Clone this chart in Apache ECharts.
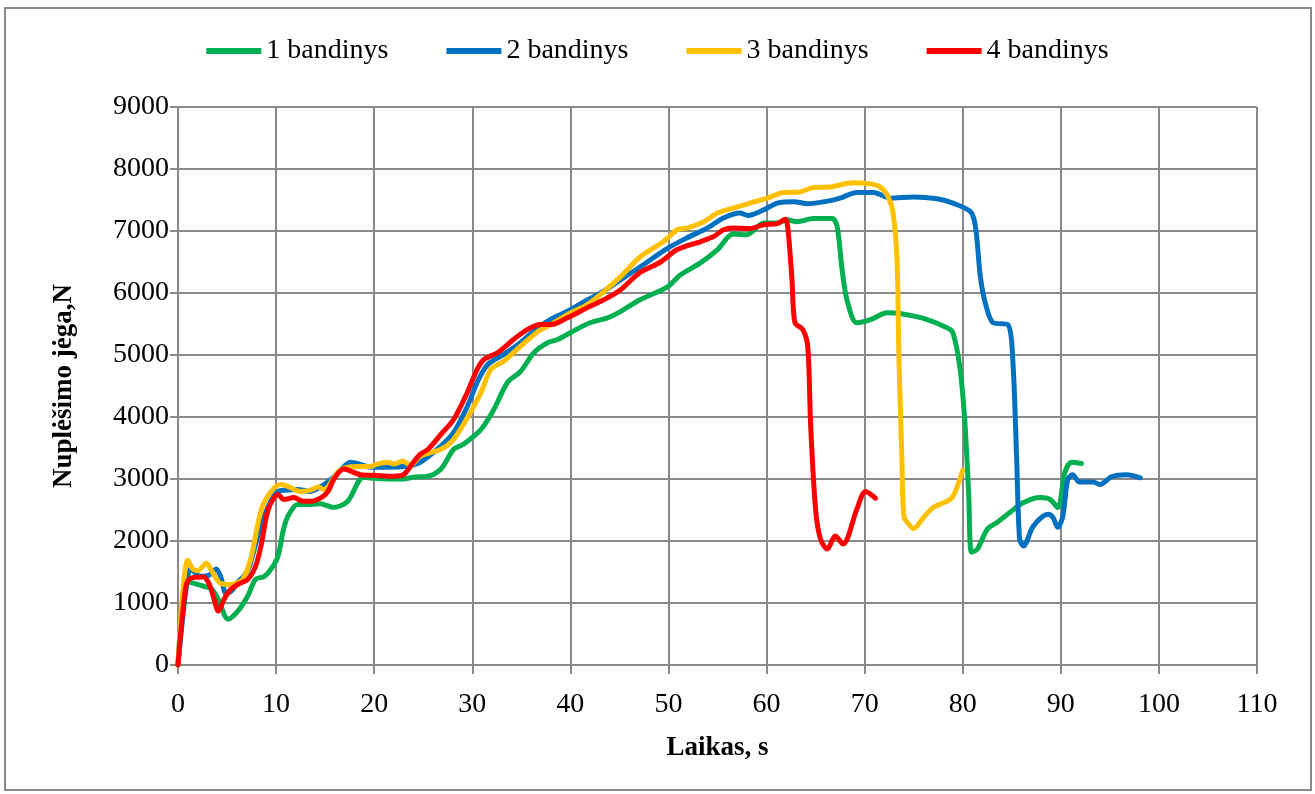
<!DOCTYPE html>
<html>
<head>
<meta charset="utf-8">
<script src="https://cdn.jsdelivr.net/npm/echarts@6/dist/echarts.min.js"></script>
<style>
html,body{margin:0;padding:0;background:#fff;}
#chart{width:1315px;height:794px;}
</style>
</head>
<body>
<div id="chart"></div>
<script>
const seriesNames = ['1 bandinys', '2 bandinys', '3 bandinys', '4 bandinys'];
const xTicks = [0,10,20,30,40,50,60,70,80,90,100,110];
const yTicks = [0,1000,2000,3000,4000,5000,6000,7000,8000,9000];

const s1Time = [0,1.1,2.6,3.4,4.1,5.1,6.1,7.1,7.9,8.8,9.5,10.2,10.7,11.2,12.2,13.5,14.5,15.9,17.3,18.9,20,21.5,23,24,25.5,26.8,28.1,29.1,30.9,32.2,33.6,34.9,36.3,37.7,38.7,40,42,43.8,45.1,47.1,49.9,51.2,53.3,55,56.6,58,59.7,61.1,62.1,63.1,64.8,66.7,67.2,67.7,68.2,69.2,70.6,72.3,73.6,76,78.4,79,79.7,80.2,80.6,80.9,81.5,82.5,83.5,84.8,86.2,87.9,88.9,89.7,90.4,91.1,92.1];
const s1Force = [0,1340,1270,1230,1060,740,870,1110,1380,1430,1550,1760,2150,2400,2590,2590,2600,2540,2640,3030,3010,3000,3000,3030,3045,3160,3480,3560,3800,4120,4560,4730,5040,5200,5250,5360,5520,5600,5700,5890,6100,6290,6490,6700,6950,6940,7130,7130,7180,7150,7200,7200,7070,6380,5890,5520,5570,5680,5670,5590,5440,5360,4810,3960,2790,1820,1870,2190,2300,2460,2620,2700,2670,2540,3100,3270,3250];

const s2Time = [0,0.8,1.3,2.3,3.2,3.9,4.4,4.9,5.5,6.1,6.7,7.3,8,8.8,9.5,10.2,11,12.2,13.5,14.6,15.5,16.3,17.6,18.5,19.6,21.4,23,24.7,26.8,28.1,29.5,30.5,31.6,33.2,34.9,36.7,38.3,40,41.4,43.1,45.1,47.1,49.9,51.9,54,55.6,57.3,58.1,59.7,61.1,62.8,64.2,66.5,67.5,69.2,70.9,72.6,75,77.4,79,80.8,81.3,81.8,82.3,83.1,84.6,85.1,85.5,85.8,86.2,87.2,88.7,89.2,89.7,90.2,90.7,91.2,91.9,93.3,94,95.2,96.7,98.1];
const s2Force = [0,1200,1550,1430,1450,1550,1400,1150,1200,1340,1430,1600,2000,2400,2650,2800,2820,2830,2800,2880,2980,3100,3270,3240,3190,3190,3200,3270,3530,3750,4170,4560,4850,5010,5200,5440,5600,5730,5860,6000,6210,6420,6720,6890,7050,7210,7290,7250,7340,7450,7470,7440,7490,7530,7620,7620,7530,7550,7520,7450,7310,7070,6260,5840,5520,5490,4930,3320,2030,1920,2240,2430,2380,2220,2400,2990,3070,2950,2950,2910,3040,3070,3020];

const s3Time = [0,0.5,1,1.5,2,2.9,3.5,4.4,5.4,6.1,6.6,7.4,8.5,9.5,10.5,11.2,12.5,13.5,14.3,14.9,16.3,17.3,18.5,19.6,20.3,21.4,22,22.9,23.7,24.7,26.8,28.1,29.8,30.9,31.9,33.2,34.9,36.7,38,40,41.7,43.4,45.1,47.1,49.5,50.9,51.9,53.6,55,56.6,58.3,60.1,61.7,63.4,64.8,66.5,68.8,70.6,71.6,72.4,72.9,73.3,73.5,73.8,74,74.5,75,76,77,78.7,79.2,80];
const s3Force = [0,1200,1690,1550,1520,1640,1500,1310,1300,1330,1380,1700,2510,2800,2910,2880,2800,2820,2870,2830,3110,3190,3200,3200,3240,3270,3240,3290,3220,3370,3480,3640,4070,4400,4770,4900,5140,5380,5490,5680,5810,6020,6260,6580,6830,7020,7050,7150,7290,7370,7450,7530,7620,7630,7700,7710,7780,7760,7710,7550,7290,6540,4930,3320,2400,2270,2200,2380,2540,2670,2780,3140];

const s4Time = [0,0.8,1.3,2.6,3.2,3.7,4.1,4.7,5.2,6.1,7.1,7.9,8.5,9.2,10.2,10.8,11.8,12.8,13.5,14.6,15.3,15.9,16.9,18.6,20,22,23,24,24.7,25.5,26.8,28.1,29.5,30.5,31.2,32.6,34.2,35.6,37,38,39.7,41.7,43.4,45.1,47.1,49.2,50.9,53.3,54.6,55.6,56.6,58.3,59.7,61.1,61.9,62.2,62.6,62.9,63.7,64.2,64.5,65,65.5,66.2,67,67.8,69.2,70.1,71.1];
const s4Force = [0,1270,1400,1420,1300,1050,870,1060,1190,1300,1380,1590,1950,2510,2750,2670,2700,2640,2640,2700,2800,3000,3160,3070,3060,3045,3070,3270,3400,3480,3720,3960,4400,4770,4930,5040,5250,5410,5490,5490,5600,5760,5890,6050,6330,6500,6700,6830,6910,7020,7050,7040,7100,7120,7190,7000,6200,5520,5410,5140,3850,2510,2030,1870,2080,1950,2510,2800,2690];

const colors = ['#00B050', '#0070C0', '#FFC000', '#FF0000'];
const times = [s1Time, s2Time, s3Time, s4Time];
const forces = [s1Force, s2Force, s3Force, s4Force];

const FONT = '"Liberation Serif", "Times New Roman", serif';
const chart = echarts.init(document.getElementById('chart'), null, {renderer: 'canvas'});

const series = seriesNames.map((name, i) => ({
  name: name,
  type: 'line',
  data: times[i].map((t, j) => [t, forces[i][j]]),
  smooth: 0.3,
  showSymbol: false,
  symbol: 'none',
  lineStyle: {width: 5, color: colors[i], cap: 'round', join: 'round'},
  itemStyle: {color: colors[i]},
  animation: false
}));

const option = {
  animation: false,
  backgroundColor: '#ffffff',
  color: colors,
  graphic: [{
    type: 'rect',
    shape: {x: 5, y: 8, width: 1306, height: 782},
    style: {fill: 'none', stroke: '#898989', lineWidth: 2},
    silent: true, z: -1
  }],
  legend: {
    top: 32,
    left: 'center',
    itemWidth: 55,
    itemHeight: 6,
    itemGap: 58,
    icon: 'rect',
    textStyle: {fontFamily: FONT, fontSize: 28, color: '#000'},
    data: seriesNames
  },
  grid: {left: 178, right: 58, top: 107, bottom: 129, containLabel: false},
  xAxis: {
    type: 'value',
    min: xTicks[0],
    max: xTicks[xTicks.length - 1],
    interval: 10,
    name: 'Laikas, s',
    nameLocation: 'middle',
    nameGap: 70,
    nameTextStyle: {fontFamily: FONT, fontSize: 27, fontWeight: 'bold', color: '#000'},
    axisLine: {show: true, lineStyle: {color: '#898989', width: 2}},
    axisTick: {show: true, length: 9, lineStyle: {color: '#898989', width: 2}},
    axisLabel: {fontFamily: FONT, fontSize: 28, color: '#000', margin: 26},
    splitLine: {show: true, lineStyle: {color: '#898989', width: 2}}
  },
  yAxis: {
    type: 'value',
    min: yTicks[0],
    max: yTicks[yTicks.length - 1],
    interval: 1000,
    name: 'Nuplėšimo jėga,N',
    nameLocation: 'middle',
    nameGap: 100,
    nameTextStyle: {fontFamily: FONT, fontSize: 27, fontWeight: 'bold', color: '#000'},
    axisLine: {show: true, lineStyle: {color: '#898989', width: 2}},
    axisTick: {show: true, length: 8, lineStyle: {color: '#898989', width: 2}},
    axisLabel: {fontFamily: FONT, fontSize: 28, color: '#000', margin: 9, formatter: v => String(v)},
    splitLine: {show: true, lineStyle: {color: '#898989', width: 2}}
  },
  series: series
};
chart.setOption(option);
</script>
</body>
</html>
